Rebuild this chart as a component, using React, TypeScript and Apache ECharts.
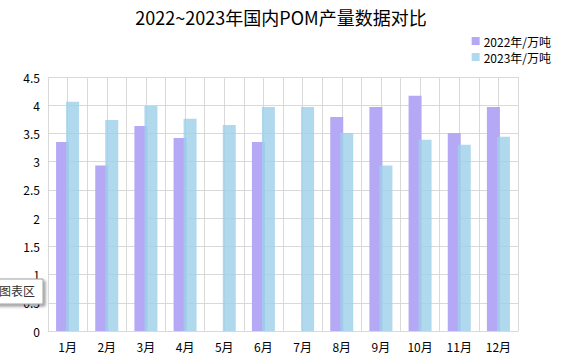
import React, { useEffect, useRef } from "react";
import * as echarts from "echarts";

const months = ["1月", "2月", "3月", "4月", "5月", "6月", "7月", "8月", "9月", "10月", "11月", "12月"];
const values2022: (number | null)[] = [3.35, 2.93, 3.63, 3.42, null, 3.35, null, 3.79, 3.97, 4.17, 3.51, 3.97];
const values2023: (number | null)[] = [4.06, 3.74, 3.99, 3.76, 3.65, 3.97, 3.97, 3.51, 2.93, 3.39, 3.3, 3.44];
const seriesNames = ["2022年/万吨", "2023年/万吨"];
const titleText = "2022~2023年国内POM产量数据对比";

const FONT = "'Noto Sans CJK SC', 'Noto Sans', sans-serif";

export default function App() {
  const ref = useRef<HTMLDivElement>(null);
  useEffect(() => {
    if (!ref.current) return;
    const chart = echarts.init(ref.current, undefined, { renderer: "svg" });
    chart.setOption({
      animation: false,
      textStyle: { fontFamily: FONT },
      title: {
        text: titleText,
        left: "center",
        top: 3,
        textStyle: { fontSize: 18, fontWeight: "normal", color: "#000", fontFamily: FONT },
      },
      legend: {
        orient: "vertical",
        right: 6,
        top: 30,
        itemWidth: 8,
        itemHeight: 8,
        itemGap: 4,
        icon: "rect",
        textStyle: { fontSize: 12, color: "#000", fontFamily: FONT, padding: [0, 0, 0, -1] },
        data: seriesNames,
      },
      grid: { left: 48, right: 44, top: 77, bottom: 32, containLabel: false },
      xAxis: [
        {
          type: "category",
          data: months,
          boundaryGap: true,
          axisTick: { show: false },
          axisLine: { show: true, lineStyle: { color: "#d9d9d9" } },
          axisLabel: { color: "#000", fontSize: 12, margin: 9, fontFamily: FONT },
          splitLine: { show: false },
        },
        {
          type: "value",
          min: 0,
          max: 24,
          interval: 1,
          position: "top",
          axisLabel: { show: false },
          axisTick: { show: false },
          axisLine: { show: false },
          splitLine: { show: true, lineStyle: { color: "#d9d9d9", width: 1 } },
        },
      ],
      yAxis: {
        type: "value",
        min: 0,
        max: 4.5,
        interval: 0.5,
        axisLine: { show: false },
        axisTick: { show: false },
        axisLabel: { color: "#000", fontSize: 12, margin: 8, fontFamily: FONT },
        splitLine: { show: true, lineStyle: { color: "#d9d9d9", width: 1 } },
      },
      series: [
        {
          name: seriesNames[0],
          type: "bar",
          xAxisIndex: 0,
          data: values2022,
          barWidth: 13,
          barGap: "-23%",
          itemStyle: { color: "#b5a8f5" },
        },
        {
          name: seriesNames[1],
          type: "bar",
          xAxisIndex: 0,
          data: values2023,
          barWidth: 13,
          itemStyle: { color: "rgba(158, 208, 234, 0.8)" },
        },
      ],
      graphic: [
        {
          type: "rect",
          shape: { x: -6, y: 279, width: 49, height: 25 },
          style: {
            fill: "#ffffff",
            stroke: "#a0a0a0",
            lineWidth: 1,
            shadowBlur: 3,
            shadowOffsetX: 2,
            shadowOffsetY: 2,
            shadowColor: "rgba(0,0,0,0.4)",
          },
          z: 100,
        },
        {
          type: "text",
          x: -1,
          y: 284,
          style: { text: "图表区", fontSize: 12, fill: "#333", fontFamily: FONT },
          z: 101,
        },
      ],
    });
    return () => chart.dispose();
  }, []);
  return <div ref={ref} style={{ width: 562, height: 363, position: "absolute", left: 0, top: 0 }} />;
}
